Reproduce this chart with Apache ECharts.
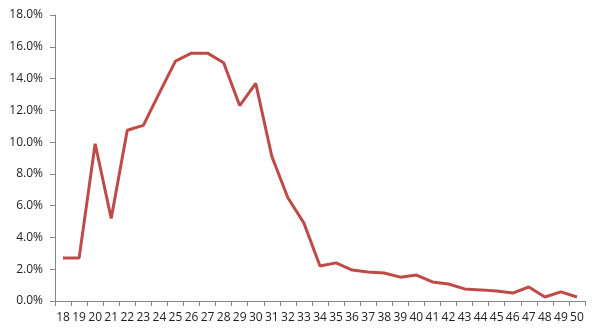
<!DOCTYPE html>
<html><head><meta charset="utf-8">
<script src="https://cdn.jsdelivr.net/npm/echarts@6/dist/echarts.min.js"></script>
<style>html,body{margin:0;padding:0;background:#fff}#c{width:600px;height:335px}</style>
</head><body><div id="c"></div>
<script>
const categories = ['18','19','20','21','22','23','24','25','26','27','28','29','30','31','32','33','34','35','36','37','38','39','40','41','42','43','44','45','46','47','48','49','50'];
const values = [2.7,2.7,9.9,5.2,10.75,11.05,13.1,15.1,15.6,15.6,15.0,12.3,13.7,9.1,6.5,4.9,2.2,2.4,1.95,1.83,1.76,1.5,1.63,1.2,1.07,0.76,0.7,0.63,0.5,0.88,0.25,0.57,0.25];
const chart = echarts.init(document.getElementById('c'));
chart.setOption({
  animation:false,
  grid:{left:55,right:15,top:15,bottom:34},
  xAxis:{type:'category',data:categories,boundaryGap:true,
    axisLine:{lineStyle:{color:'#868686',width:1}},
    axisTick:{show:true,length:5,lineStyle:{color:'#868686'},alignWithLabel:false},
    axisLabel:{color:'#222',fontFamily:'Open Sans',fontSize:12,margin:11,interval:0}},
  yAxis:{type:'value',min:0,max:18,interval:2,
    axisLine:{show:true,lineStyle:{color:'#868686',width:1}},
    axisTick:{show:true,length:5,lineStyle:{color:'#868686'}},
    splitLine:{show:false},
    axisLabel:{color:'#222',fontFamily:'Open Sans',fontSize:12,margin:12,formatter:v=>v.toFixed(1)+'%'}},
  series:[{type:'line',data:values,symbol:'none',lineStyle:{color:'#BE4B48',width:3},itemStyle:{color:'#BE4B48'}}]
});
</script></body></html>
